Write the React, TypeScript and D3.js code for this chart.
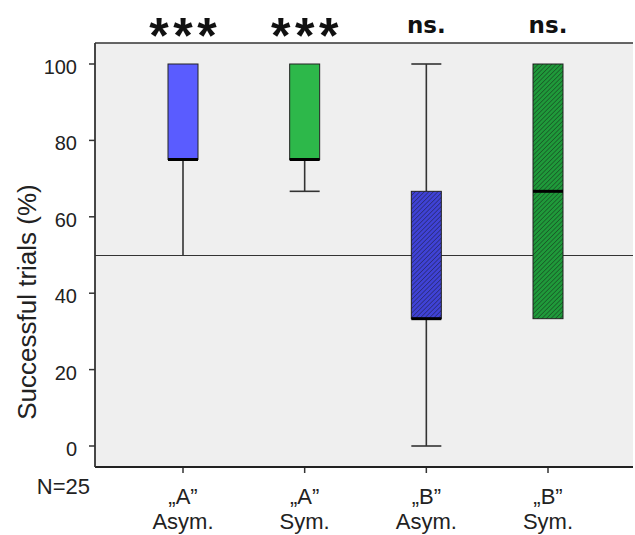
import React from "react";
import * as d3 from "d3";

// groups, box stats (percent)
const groups = ["A-Asym", "A-Sym", "B-Asym", "B-Sym"];
const letters = ["\u201EA\u201D", "\u201EA\u201D", "\u201EB\u201D", "\u201EB\u201D"];
const kinds = ["Asym.", "Sym.", "Asym.", "Sym."];
const lows = [50, 66.67, 0, 33.33];
const q1s = [75, 75, 33.33, 33.33];
const medians = [75, 75, 33.33, 66.67];
const q3s = [100, 100, 66.67, 100];
const highs = [100, 100, 100, 100];
const signif = ["***", "***", "ns.", "ns."];
const fills = ["#5a5cff", "#2db84a", "#3f42d6", "#1f9a3a"];
const hatched = [false, false, true, true];
const yTicks = [0, 20, 40, 60, 80, 100];

const W = 635;
const H = 535;
const plot = { left: 95, right: 633, top: 43, bottom: 467 };

export default function App() {
  const y = d3.scaleLinear().domain([0, 100]).range([446, 64]);
  const x = d3
    .scalePoint<string>()
    .domain(groups)
    .range([183, 548]);
  const boxW = 30;
  const font = "'Liberation Sans', Arial, sans-serif";

  return (
    <svg width={W} height={H} style={{ position: "absolute", left: 0, top: 0 }}>
      <defs>
        <pattern id="hatch" width="3.2" height="3.2" patternUnits="userSpaceOnUse" patternTransform="rotate(45)">
          <line x1="0" y1="0" x2="0" y2="3.2" stroke="#111" strokeWidth="1" opacity="0.75" />
        </pattern>
      </defs>
      <rect x={plot.left} y={plot.top} width={plot.right - plot.left} height={plot.bottom - plot.top} fill="#efefef" />
      {/* reference line at 50% */}
      <line x1={plot.left} x2={plot.right} y1={y(50) + 0.5} y2={y(50) + 0.5} stroke="#333" strokeWidth={1.2} />
      {groups.map((g, i) => {
        const cx = x(g)!;
        return (
          <g key={g}>
            {highs[i] > q3s[i] && (
              <g stroke="#333" strokeWidth={1.6}>
                <line x1={cx} x2={cx} y1={y(highs[i])} y2={y(q3s[i])} />
                <line x1={cx - boxW / 2} x2={cx + boxW / 2} y1={y(highs[i])} y2={y(highs[i])} />
              </g>
            )}
            {lows[i] < q1s[i] && (
              <g stroke="#333" strokeWidth={1.6}>
                <line x1={cx} x2={cx} y1={y(q1s[i])} y2={y(lows[i])} />
                {lows[i] !== 50 && (
                  <line x1={cx - boxW / 2} x2={cx + boxW / 2} y1={y(lows[i])} y2={y(lows[i])} />
                )}
              </g>
            )}
            <rect
              x={cx - boxW / 2}
              y={y(q3s[i])}
              width={boxW}
              height={y(q1s[i]) - y(q3s[i])}
              fill={fills[i]}
              stroke="#222"
              strokeWidth={1}
            />
            {hatched[i] && (
              <rect
                x={cx - boxW / 2}
                y={y(q3s[i])}
                width={boxW}
                height={y(q1s[i]) - y(q3s[i])}
                fill="url(#hatch)"
              />
            )}
            <line
              x1={cx - boxW / 2}
              x2={cx + boxW / 2}
              y1={y(medians[i])}
              y2={y(medians[i])}
              stroke="#000"
              strokeWidth={3}
            />
            {/* x tick */}
            <line x1={cx} x2={cx} y1={plot.bottom} y2={plot.bottom + 6} stroke="#333" strokeWidth={1.5} />
            <text x={cx} y={504} textAnchor="middle" fontFamily={font} fontSize={22} fill="#222">
              {letters[i]}
            </text>
            <text x={cx} y={529} textAnchor="middle" fontFamily={font} fontSize={22} fill="#222">
              {kinds[i]}
            </text>
            {signif[i] === "***" ? (
              [-24, 0, 24].map((dx) => (
                <text key={dx} x={cx + dx} y={53} textAnchor="middle" fontFamily={font} fontSize={50} fontWeight="bold" fill="#111">
                  *
                </text>
              ))
            ) : (
              <text x={cx} y={33} textAnchor="middle" fontFamily="'DejaVu Sans', sans-serif" fontSize={23} fontWeight="bold" fill="#111">
                {signif[i]}
              </text>
            )}
          </g>
        );
      })}
      {/* frame */}
      <line x1={plot.left} x2={plot.right} y1={plot.top} y2={plot.top} stroke="#333" strokeWidth={1.5} />
      <line x1={plot.left} x2={plot.right} y1={plot.bottom} y2={plot.bottom} stroke="#222" strokeWidth={2} />
      <line x1={plot.left} x2={plot.left} y1={plot.top} y2={plot.bottom} stroke="#333" strokeWidth={1.8} />
      {yTicks.map((t) => (
        <g key={t}>
          <line x1={plot.left - 6} x2={plot.left} y1={y(t)} y2={y(t)} stroke="#333" strokeWidth={1.5} />
          <text x={plot.left - 18} y={y(t) + 10} textAnchor="end" fontFamily={font} fontSize={20} fill="#222">
            {t}
          </text>
        </g>
      ))}
      <text
        transform="translate(36, 302) rotate(-90)"
        textAnchor="middle"
        fontFamily={font}
        fontSize={26}
        fill="#222"
      >
        Successful trials (%)
      </text>
      <text x={90} y={494} textAnchor="end" fontFamily={font} fontSize={22} fill="#222">
        N=25
      </text>
    </svg>
  );
}
